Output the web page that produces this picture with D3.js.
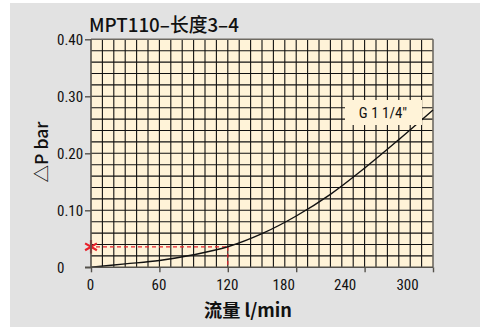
<!DOCTYPE html>
<html><head><meta charset="utf-8">
<script src="https://cdn.jsdelivr.net/npm/d3@7"></script>
<style>
body{margin:0;background:#fff;}
svg{display:block;}
</style></head>
<body>
<svg id="c" width="480" height="327"></svg>
<script>
const title = "MPT110–长度3–4";
const yLabel = "△P bar";
const xLabel = "流量 l/min";
const seriesName = "G 1 1/4\"";
const flow = [0, 30, 60, 90, 120, 150, 180, 210, 240, 270, 300];
const dp = [0, 0.006, 0.012, 0.022, 0.036, 0.059, 0.090, 0.128, 0.174, 0.224, 0.276];
const xTicks = [0, 60, 120, 180, 240, 300];
const xTickLabels = ["0", "60", "120", "180", "240", "300"];
const yTicks = [0, 0.1, 0.2, 0.3, 0.4];
const yTickLabels = ["0", "0.10", "0.20", "0.30", "0.40"];
const markerFlow = [120];
const markerDp = [0.036];

const svg = d3.select("#c");
const narrow = "'Liberation Sans Narrow','Arial Narrow','Roboto Condensed','Liberation Sans',sans-serif";
const cjk = "'Noto Sans CJK SC','Noto Sans',sans-serif";

svg.append("rect").attr("x",10).attr("y",3).attr("width",470).attr("height",324).attr("fill","#e2e2e2");

const x = d3.scaleLinear().domain([0,300]).range([91,433]);
const y = d3.scaleLinear().domain([0,0.4]).range([267.3,39.3]);

svg.append("rect").attr("x",x(0)).attr("y",y(0.4)).attr("width",x(300)-x(0)).attr("height",y(0)-y(0.4)).attr("fill","#fff3d8");

const g = svg.append("g");
const vx = d3.range(10,300,10);
g.selectAll("line.v").data(vx).join("line")
  .attr("x1",d=>x(d)).attr("x2",d=>x(d)).attr("y1",y(0)).attr("y2",y(0.4))
  .attr("stroke","#111").attr("stroke-width",1.1);
const hy = d3.range(0.02,0.4,0.02);
g.selectAll("line.h").data(hy).join("line")
  .attr("y1",d=>y(d)).attr("y2",d=>y(d)).attr("x1",x(0)).attr("x2",x(300))
  .attr("stroke","#111").attr("stroke-width",1.1);
g.append("line").attr("x1",x(0)).attr("x2",x(300)).attr("y1",y(0.4)).attr("y2",y(0.4)).attr("stroke","#6e6a62").attr("stroke-width",1.6);
g.append("line").attr("x1",x(300)).attr("x2",x(300)).attr("y1",y(0.4)).attr("y2",y(0)).attr("stroke","#6e6a62").attr("stroke-width",1.6);

// red marker
svg.append("line").attr("x1",x(0)+5).attr("x2",x(markerFlow[0])).attr("y1",y(markerDp[0])).attr("y2",y(markerDp[0]))
  .attr("stroke","#e8202a").attr("stroke-width",1.2).attr("stroke-dasharray","4,3");
svg.append("line").attr("x1",x(markerFlow[0])).attr("x2",x(markerFlow[0])).attr("y1",y(markerDp[0])).attr("y2",y(0))
  .attr("stroke","#e8202a").attr("stroke-width",1.2).attr("stroke-dasharray","4,3");

// curve
const pts = flow.map((f,i)=>[f,dp[i]]);
svg.append("path").datum(pts)
  .attr("d", d3.line().x(d=>x(d[0])).y(d=>y(d[1])).curve(d3.curveCatmullRom.alpha(0.5)))
  .attr("fill","none").attr("stroke","#111").attr("stroke-width",1.4);

// series label box
svg.append("rect").attr("x",345).attr("y",100).attr("width",77).attr("height",25).attr("fill","#fff3d8");
svg.append("text").attr("x",383).attr("y",118).attr("text-anchor","middle")
  .attr("font-family",narrow).attr("font-size",15).attr("fill","#111").text(seriesName);

// star
svg.append("path").attr("transform",`translate(${x(0)},${y(markerDp[0])})`)
  .attr("d", d3.symbol(d3.symbolAsterisk, 130)()).attr("stroke","#e8202a").attr("stroke-width",2.2).attr("fill","none");

// axes
const xa = svg.append("g").attr("transform",`translate(0,${y(0)})`)
  .call(d3.axisBottom(x).tickValues(xTicks).tickSize(5).tickFormat((d,i)=>xTickLabels[i]));
xa.select(".domain").attr("stroke","#55524c").attr("stroke-width",1.6).attr("d",`M85,0H${x(300)}`);
xa.selectAll(".tick line").attr("stroke","#55524c").attr("stroke-width",1.4);
const drift = [-1,-1,-1,-13,-20,-26];
xa.selectAll(".tick text").attr("font-family",narrow).attr("font-size",15).attr("fill","#111")
  .attr("dy","1.0em").attr("dx",(d,i)=>drift[i]);

const ya = svg.append("g").attr("transform",`translate(${x(0)},0)`)
  .call(d3.axisLeft(y).tickValues(yTicks).tickSize(6).tickFormat((d,i)=>yTickLabels[i]));
ya.select(".domain").attr("stroke","#55524c").attr("stroke-width",1.6).attr("d",`M0,${y(0.4)}V${y(0)}`);
ya.selectAll(".tick line").attr("stroke","#55524c").attr("stroke-width",1.4);
ya.selectAll(".tick text").attr("font-family",narrow).attr("font-size",15).attr("fill","#111")
  .attr("text-anchor","start").attr("x",57-x(0)).attr("dy","0.35em");

// titles, sized to target widths
function fit(sel, base, target){
  const w = sel.node().getComputedTextLength();
  if (w > 0) sel.attr("font-size", base * target / w);
}
const t = svg.append("text").attr("x",89).attr("y",32).attr("font-family",cjk).attr("font-weight",500)
  .attr("font-size",19).attr("fill","#111").text(title);
fit(t, 19, 150);
const yl = svg.append("text").attr("transform","translate(48,152) rotate(-90)").attr("text-anchor","middle")
  .attr("font-family",cjk).attr("font-weight",500).attr("font-size",19).attr("fill","#111").text(yLabel);
fit(yl, 19, 61);
const xl = svg.append("text").attr("x",248).attr("y",317).attr("text-anchor","middle")
  .attr("font-family",cjk).attr("font-weight",700).attr("font-size",18).attr("fill","#111").text(xLabel);
fit(xl, 18, 88);
</script>
</body></html>
